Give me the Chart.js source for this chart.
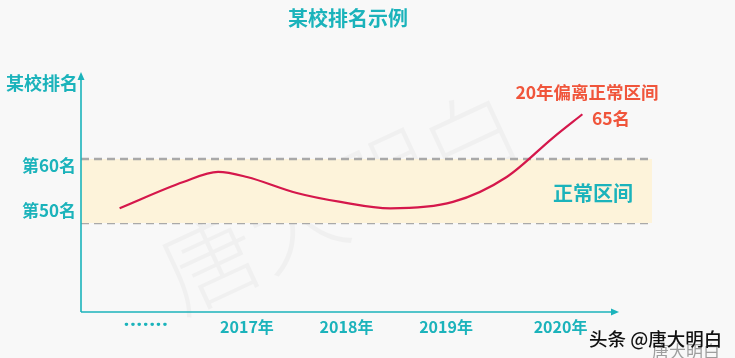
<!DOCTYPE html>
<html>
<head>
<meta charset="utf-8">
<script src="https://cdn.jsdelivr.net/npm/chart.js@4"></script>
<style>
  html, body { margin: 0; padding: 0; background: #f8f8f8; overflow: hidden; }
  #wrap { width: 735px; height: 358px; position: relative; }
</style>
</head>
<body>
<div id="wrap"><canvas id="c"></canvas></div>
<script>
// ---- data ----
const title = '某校排名示例';
const yAxisTitle = '某校排名';
const curveYears = [2015.72, 2016.36, 2016.71, 2017.00, 2017.50, 2017.94, 2018.44, 2019.07, 2019.61, 2020.08, 2020.37];
const curveRanks = [52.3, 56.4, 58.0, 57.2, 54.7, 53.3, 52.3, 53.3, 57.2, 63.4, 67.0];
const normalRange = [50, 60];
const xTickValues = [2016, 2017, 2018, 2019, 2020];
const xTickLabels = ['·······', '2017年', '2018年', '2019年', '2020年'];
const yTickValues = [60, 50];
const yTickLabels = ['第60名', '第50名'];
const noteLine1 = '20年偏离正常区间';
const noteLine2 = '65名';
const bandLabel = '正常区间';

// ---- style ----
const TEAL = '#1bb3bb';
const RED_TEXT = '#f0553b';
const CURVE = '#d5174b';
const BAND = '#fdf3da';
const DASH = '#a9a9a9';
const FONT = '"Noto Sans CJK SC", "Noto Sans", sans-serif';
const X_MIN = 2015.332, X_MAX = 2021.07;
const Y_MIN = 36.1, Y_MAX = 73.6;
const yLabelOffsets = [7, -12];
const xLabelOffsets = [-2, 0, 0, 0, 15];

const curveData = curveYears.map((x, i) => ({ x: x, y: curveRanks[i] }));
const lowerLine = [{ x: X_MIN, y: normalRange[0] }, { x: X_MAX, y: normalRange[0] }];
const upperLine = [{ x: X_MIN, y: normalRange[1] }, { x: X_MAX, y: normalRange[1] }];

const decor = {
  id: 'decor',
  beforeDraw(chart) {
    const ctx = chart.ctx;
    ctx.save();
    ctx.fillStyle = '#f8f8f8';
    ctx.fillRect(0, 0, chart.width, chart.height);
    ctx.translate(340, 200);
    ctx.rotate(-25 * Math.PI / 180);
    ctx.font = '300 96px ' + FONT;
    ctx.fillStyle = 'rgba(0,0,0,0.03)';
    ctx.textAlign = 'center';
    ctx.textBaseline = 'middle';
    ctx.fillText('唐大明白', 0, 0);
    ctx.restore();
  },
  afterDatasetsDraw(chart) {
    const ctx = chart.ctx;
    const a = chart.chartArea;
    const x0 = a.left, yb = a.bottom;
    const xEnd = a.right - 33;
    const yTop = a.top;
    ctx.save();
    ctx.strokeStyle = TEAL;
    ctx.fillStyle = TEAL;
    ctx.lineWidth = 1.6;
    ctx.beginPath();
    ctx.moveTo(x0, yb);
    ctx.lineTo(x0, yTop + 5);
    ctx.moveTo(x0, yb);
    ctx.lineTo(xEnd - 5, yb);
    ctx.stroke();
    ctx.beginPath();
    ctx.moveTo(x0, yTop);
    ctx.lineTo(x0 - 3.5, yTop + 8);
    ctx.lineTo(x0 + 3.5, yTop + 8);
    ctx.closePath();
    ctx.fill();
    ctx.beginPath();
    ctx.moveTo(xEnd, yb);
    ctx.lineTo(xEnd - 8, yb - 3.5);
    ctx.lineTo(xEnd - 8, yb + 3.5);
    ctx.closePath();
    ctx.fill();
    ctx.restore();
  },
  afterDraw(chart) {
    const ctx = chart.ctx;
    const xs = chart.scales.x, ys = chart.scales.y;
    const a = chart.chartArea;
    ctx.save();
    ctx.textBaseline = 'middle';
    ctx.fillStyle = TEAL;
    ctx.font = 'bold 20px ' + FONT;
    ctx.textAlign = 'center';
    ctx.fillText(title, 348, 18);
    ctx.textAlign = 'right';
    ctx.font = 'bold 18px ' + FONT;
    ctx.fillText(yAxisTitle, a.left - 3, 83);
    ctx.font = 'bold 17px ' + FONT;
    yTickValues.forEach((v, i) => {
      ctx.fillText(yTickLabels[i], a.left - 5, ys.getPixelForValue(v) + yLabelOffsets[i]);
    });
    ctx.textAlign = 'center';
    xTickValues.forEach((v, i) => {
      const px = xs.getPixelForValue(v) + xLabelOffsets[i];
      if (i === 0) {
        ctx.save();
        ctx.font = '900 17px "Noto Sans", sans-serif';
        ctx.letterSpacing = '1.5px';
        ctx.fillText(xTickLabels[i], px + 1, 326);
        ctx.restore();
      } else {
        ctx.font = 'bold 16px ' + FONT;
        ctx.fillText(xTickLabels[i], px, 327);
      }
    });
    ctx.font = 'bold 20px ' + FONT;
    ctx.fillText(bandLabel, 593, 193);
    ctx.fillStyle = RED_TEXT;
    ctx.font = 'bold 17.5px ' + FONT;
    ctx.fillText(noteLine1, 587, 92);
    ctx.fillText(noteLine2, 611, 118);
    ctx.textAlign = 'left';
    ctx.fillStyle = 'rgba(120,120,120,0.7)';
    ctx.font = '17px ' + FONT;
    ctx.fillText('唐大明白', 652, 352);
    ctx.fillStyle = '#111';
    ctx.font = '500 18.5px ' + FONT;
    ctx.fillText('头条 @唐大明白', 589, 339);
    ctx.restore();
  }
};

new Chart(document.getElementById('c'), {
  type: 'line',
  data: {
    datasets: [
      {
        label: '某校排名',
        data: curveData,
        borderColor: CURVE,
        borderWidth: 2.2,
        pointRadius: 0,
        cubicInterpolationMode: 'monotone',
        fill: false,
        order: 0
      },
      {
        label: 'lower',
        data: lowerLine,
        borderColor: DASH,
        borderWidth: 2.5,
        borderDash: [8, 5],
        pointRadius: 0,
        fill: false,
        order: 2
      },
      {
        label: 'upper',
        data: upperLine,
        borderColor: DASH,
        borderWidth: 2.5,
        borderDash: [8, 5],
        pointRadius: 0,
        backgroundColor: BAND,
        fill: '-1',
        order: 1
      }
    ]
  },
  options: {
    responsive: true,
    maintainAspectRatio: false,
    animation: false,
    layout: { padding: { left: 81, right: 83, top: 72, bottom: 46 } },
    plugins: { legend: { display: false }, tooltip: { enabled: false }, title: { display: false } },
    scales: {
      x: { type: 'linear', display: false, min: X_MIN, max: X_MAX },
      y: { type: 'linear', display: false, min: Y_MIN, max: Y_MAX }
    }
  },
  plugins: [decor]
});
</script>
</body>
</html>
